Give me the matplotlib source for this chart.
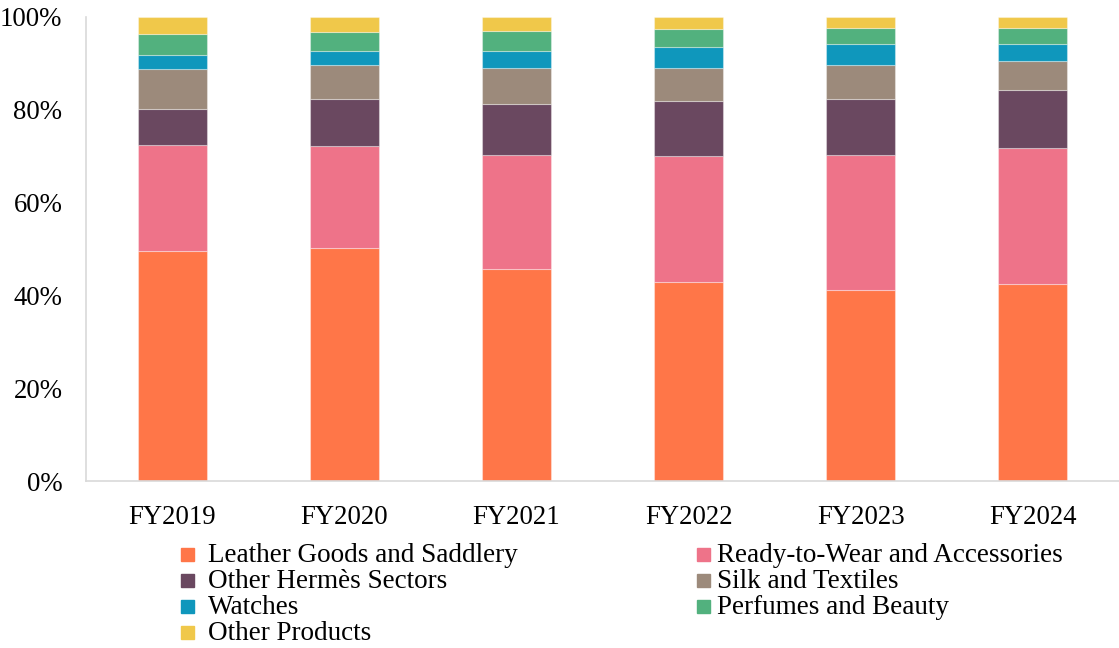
import matplotlib
matplotlib.use("Agg")
import matplotlib.pyplot as plt
from matplotlib.patches import Rectangle
from matplotlib.ticker import FuncFormatter
import numpy as np

plt.rcParams['font.family'] = ['Liberation Serif', 'DejaVu Serif']

years = ["FY2019", "FY2020", "FY2021", "FY2022", "FY2023", "FY2024"]

segments = [
    "Leather Goods and Saddlery",
    "Ready-to-Wear and Accessories",
    "Other Hermès Sectors",
    "Silk and Textiles",
    "Watches",
    "Perfumes and Beauty",
    "Other Products",
]

# Share of revenue by segment (%)
leather = [49.6, 50.2, 45.6, 42.9, 41.2, 42.5]
ready_to_wear = [22.8, 22.1, 24.6, 27.1, 29.0, 29.2]
other_hermes = [7.8, 10.0, 11.1, 11.8, 12.1, 12.6]
silk = [8.6, 7.3, 7.6, 7.3, 7.3, 6.2]
watches = [2.9, 3.0, 3.8, 4.4, 4.5, 3.7]
perfumes = [4.7, 4.1, 4.2, 3.9, 3.6, 3.5]
other_products = [3.6, 3.3, 3.1, 2.6, 2.3, 2.3]

colors = ["#FF7648", "#EE7389", "#6A4860", "#9C8A7B", "#0F97BC", "#52B17E", "#F0C84A"]

series = [leather, ready_to_wear, other_hermes, silk, watches, perfumes, other_products]

fig = plt.figure(figsize=(11.19, 6.48), dpi=100)
ax = fig.add_axes([0.0769, 0.2577, 0.9231, 0.7161])

x = np.arange(len(years))
bottom = np.zeros(len(years))
for vals, col, name in zip(series, colors, segments):
    v = np.array(vals, dtype=float)
    ax.bar(x, v, 0.4, bottom=bottom, color=col, label=name,
           edgecolor=(1, 1, 1, 0.35), linewidth=0.8)
    bottom += v

ax.set_xlim(-0.5, 5.5)
ax.set_ylim(0, 100)
ax.set_yticks(np.arange(0, 101, 20))
ax.yaxis.set_major_formatter(FuncFormatter(lambda v, p: f"{int(v)}%"))
ax.set_xticks(x)
ax.set_xticklabels(years)
ax.tick_params(axis='both', length=0, labelsize=19.3, colors='black')
ax.tick_params(axis='y', pad=17)
ax.tick_params(axis='x', pad=17)
for s in ["top", "right"]:
    ax.spines[s].set_visible(False)
for s in ["left", "bottom"]:
    ax.spines[s].set_color("#D9D9D9")
    ax.spines[s].set_linewidth(1.2)

# Two-column legend below the plot
W, H = 1119.0, 648.0
rows_y = [554, 580, 606, 632]
left_items = [0, 2, 4, 6]
right_items = [1, 3, 5]
sq = 13
for r, idx in enumerate(left_items):
    yc = rows_y[r]
    fig.patches.append(Rectangle((181 / W, 1 - (yc + sq / 2) / H), sq / W, sq / H,
                                 transform=fig.transFigure, color=colors[idx]))
    fig.text(208 / W, 1 - (yc + 1) / H, segments[idx], fontsize=19.5, va='center', ha='left')
for r, idx in enumerate(right_items):
    yc = rows_y[r]
    fig.patches.append(Rectangle((697 / W, 1 - (yc + sq / 2) / H), sq / W, sq / H,
                                 transform=fig.transFigure, color=colors[idx]))
    fig.text(717 / W, 1 - (yc + 1) / H, segments[idx], fontsize=19.5, va='center', ha='left')

fig.savefig("out.png", dpi=100)
